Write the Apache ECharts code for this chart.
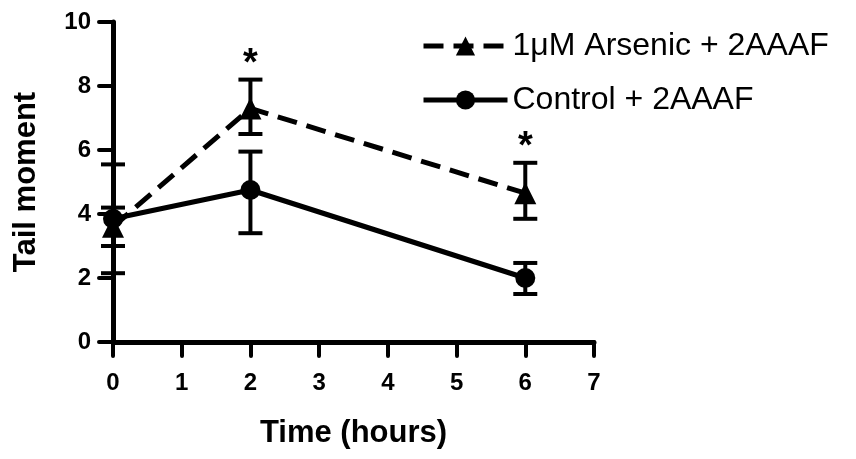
<!DOCTYPE html>
<html>
<head>
<meta charset="utf-8">
<script src="https://cdn.jsdelivr.net/npm/echarts@6/dist/echarts.min.js"></script>
<style>
  html, body { margin: 0; padding: 0; background: #fff; }
  #chart { width: 856px; height: 459px; }
</style>
</head>
<body>
<div id="chart"></div>
<script>
// data
var times = [0, 2, 6];
var xTicks = [0, 1, 2, 3, 4, 5, 6, 7];
var yTicks = [0, 2, 4, 6, 8, 10];

var arsenicName = '1\u03bcM Arsenic + 2AAAF';
var arsenicMean = [3.6, 7.3, 4.65];
var arsenicLow = [3.0, 6.5, 3.85];
var arsenicHigh = [4.2, 8.2, 5.6];
var arsenicStar = [false, true, true];   // significance marks

var controlName = 'Control + 2AAAF';
var controlMean = [3.85, 4.75, 2.0];
var controlLow = [2.15, 3.4, 1.5];
var controlHigh = [5.55, 5.95, 2.47];

var chart = echarts.init(document.getElementById('chart'), null, { renderer: 'canvas' });
var FONT = 'Liberation Sans, Arial, sans-serif';

function pairs(xs, ys) {
    return xs.map(function (x, i) { return [x, ys[i]]; });
}
function errData(xs, lo, hi, star) {
    return xs.map(function (x, i) { return [x, lo[i], hi[i], star ? (star[i] ? 1 : 0) : 0]; });
}

// error bars (+ stars) drawn through the axis scales
function renderErr(params, api) {
    var x = api.value(0);
    var top = api.coord([x, api.value(2)]);
    var bot = api.coord([x, api.value(1)]);
    var hw = 12;
    var st = { stroke: '#000', lineWidth: 4 };
    var kids = [
        { type: 'line', shape: { x1: top[0], y1: top[1], x2: bot[0], y2: bot[1] }, style: st },
        { type: 'line', shape: { x1: top[0] - hw, y1: top[1], x2: top[0] + hw, y2: top[1] }, style: st },
        { type: 'line', shape: { x1: bot[0] - hw, y1: bot[1], x2: bot[0] + hw, y2: bot[1] }, style: st }
    ];
    if (api.value(3)) {
        kids.push({
            type: 'text',
            style: {
                text: '*', x: top[0], y: top[1] + 4,
                textAlign: 'center', textVerticalAlign: 'bottom',
                fontSize: 38, fontWeight: 'bold', fontFamily: FONT, fill: '#000'
            }
        });
    }
    return { type: 'group', children: kids };
}

var option = {
    backgroundColor: '#fff',
    animation: false,
    grid: { left: 113, right: 262, top: 22, bottom: 117, containLabel: false },
    legend: {
        data: [arsenicName, controlName],
        orient: 'vertical',
        left: 416,
        top: 25,
        itemWidth: 84,
        itemHeight: 24,
        itemGap: 22,
        lineStyle: { width: 5 },
        textStyle: { fontFamily: FONT, fontSize: 32, color: '#000' }
    },
    xAxis: {
        type: 'value',
        min: 0, max: 7, interval: 1,
        name: 'Time (hours)',
        nameLocation: 'middle',
        nameGap: 76,
        nameTextStyle: { fontFamily: FONT, fontSize: 31, fontWeight: 'bold', color: '#000' },
        axisLine: { lineStyle: { color: '#000', width: 5, cap: 'round' } },
        axisTick: { inside: false, length: 14, lineStyle: { color: '#000', width: 4, cap: 'round' } },
        axisLabel: {
            margin: 29, fontFamily: FONT, fontSize: 24, fontWeight: 'bold', color: '#000',
            formatter: function (v) { return xTicks.indexOf(v) >= 0 ? String(v) : ''; }
        },
        splitLine: { show: false }
    },
    yAxis: {
        type: 'value',
        min: 0, max: 10, interval: 2,
        name: 'Tail moment',
        nameLocation: 'middle',
        nameGap: 71,
        nameRotate: 90,
        nameTextStyle: { fontFamily: FONT, fontSize: 31, fontWeight: 'bold', color: '#000' },
        axisLine: { lineStyle: { color: '#000', width: 5, cap: 'round' } },
        axisTick: { inside: false, length: 14, lineStyle: { color: '#000', width: 4, cap: 'round' } },
        axisLabel: {
            margin: 22, fontFamily: FONT, fontSize: 24, fontWeight: 'bold', color: '#000',
            formatter: function (v) { return yTicks.indexOf(v) >= 0 ? String(v) : ''; }
        },
        splitLine: { show: false }
    },
    series: [
        {
            name: arsenicName,
            type: 'line',
            data: pairs(times, arsenicMean),
            symbol: 'triangle',
            symbolSize: 22,
            itemStyle: { color: '#000' },
            lineStyle: { color: '#000', width: 5, type: [20, 10] },
            z: 3
        },
        {
            name: controlName,
            type: 'line',
            data: pairs(times, controlMean),
            symbol: 'circle',
            symbolSize: 20,
            itemStyle: { color: '#000' },
            lineStyle: { color: '#000', width: 5 },
            z: 3
        },
        {
            name: 'arsenicErr',
            type: 'custom',
            renderItem: renderErr,
            data: errData(times, arsenicLow, arsenicHigh, arsenicStar),
            z: 4
        },
        {
            name: 'controlErr',
            type: 'custom',
            renderItem: renderErr,
            data: errData(times, controlLow, controlHigh, null),
            z: 4
        }
    ]
};

chart.setOption(option);
</script>
</body>
</html>
